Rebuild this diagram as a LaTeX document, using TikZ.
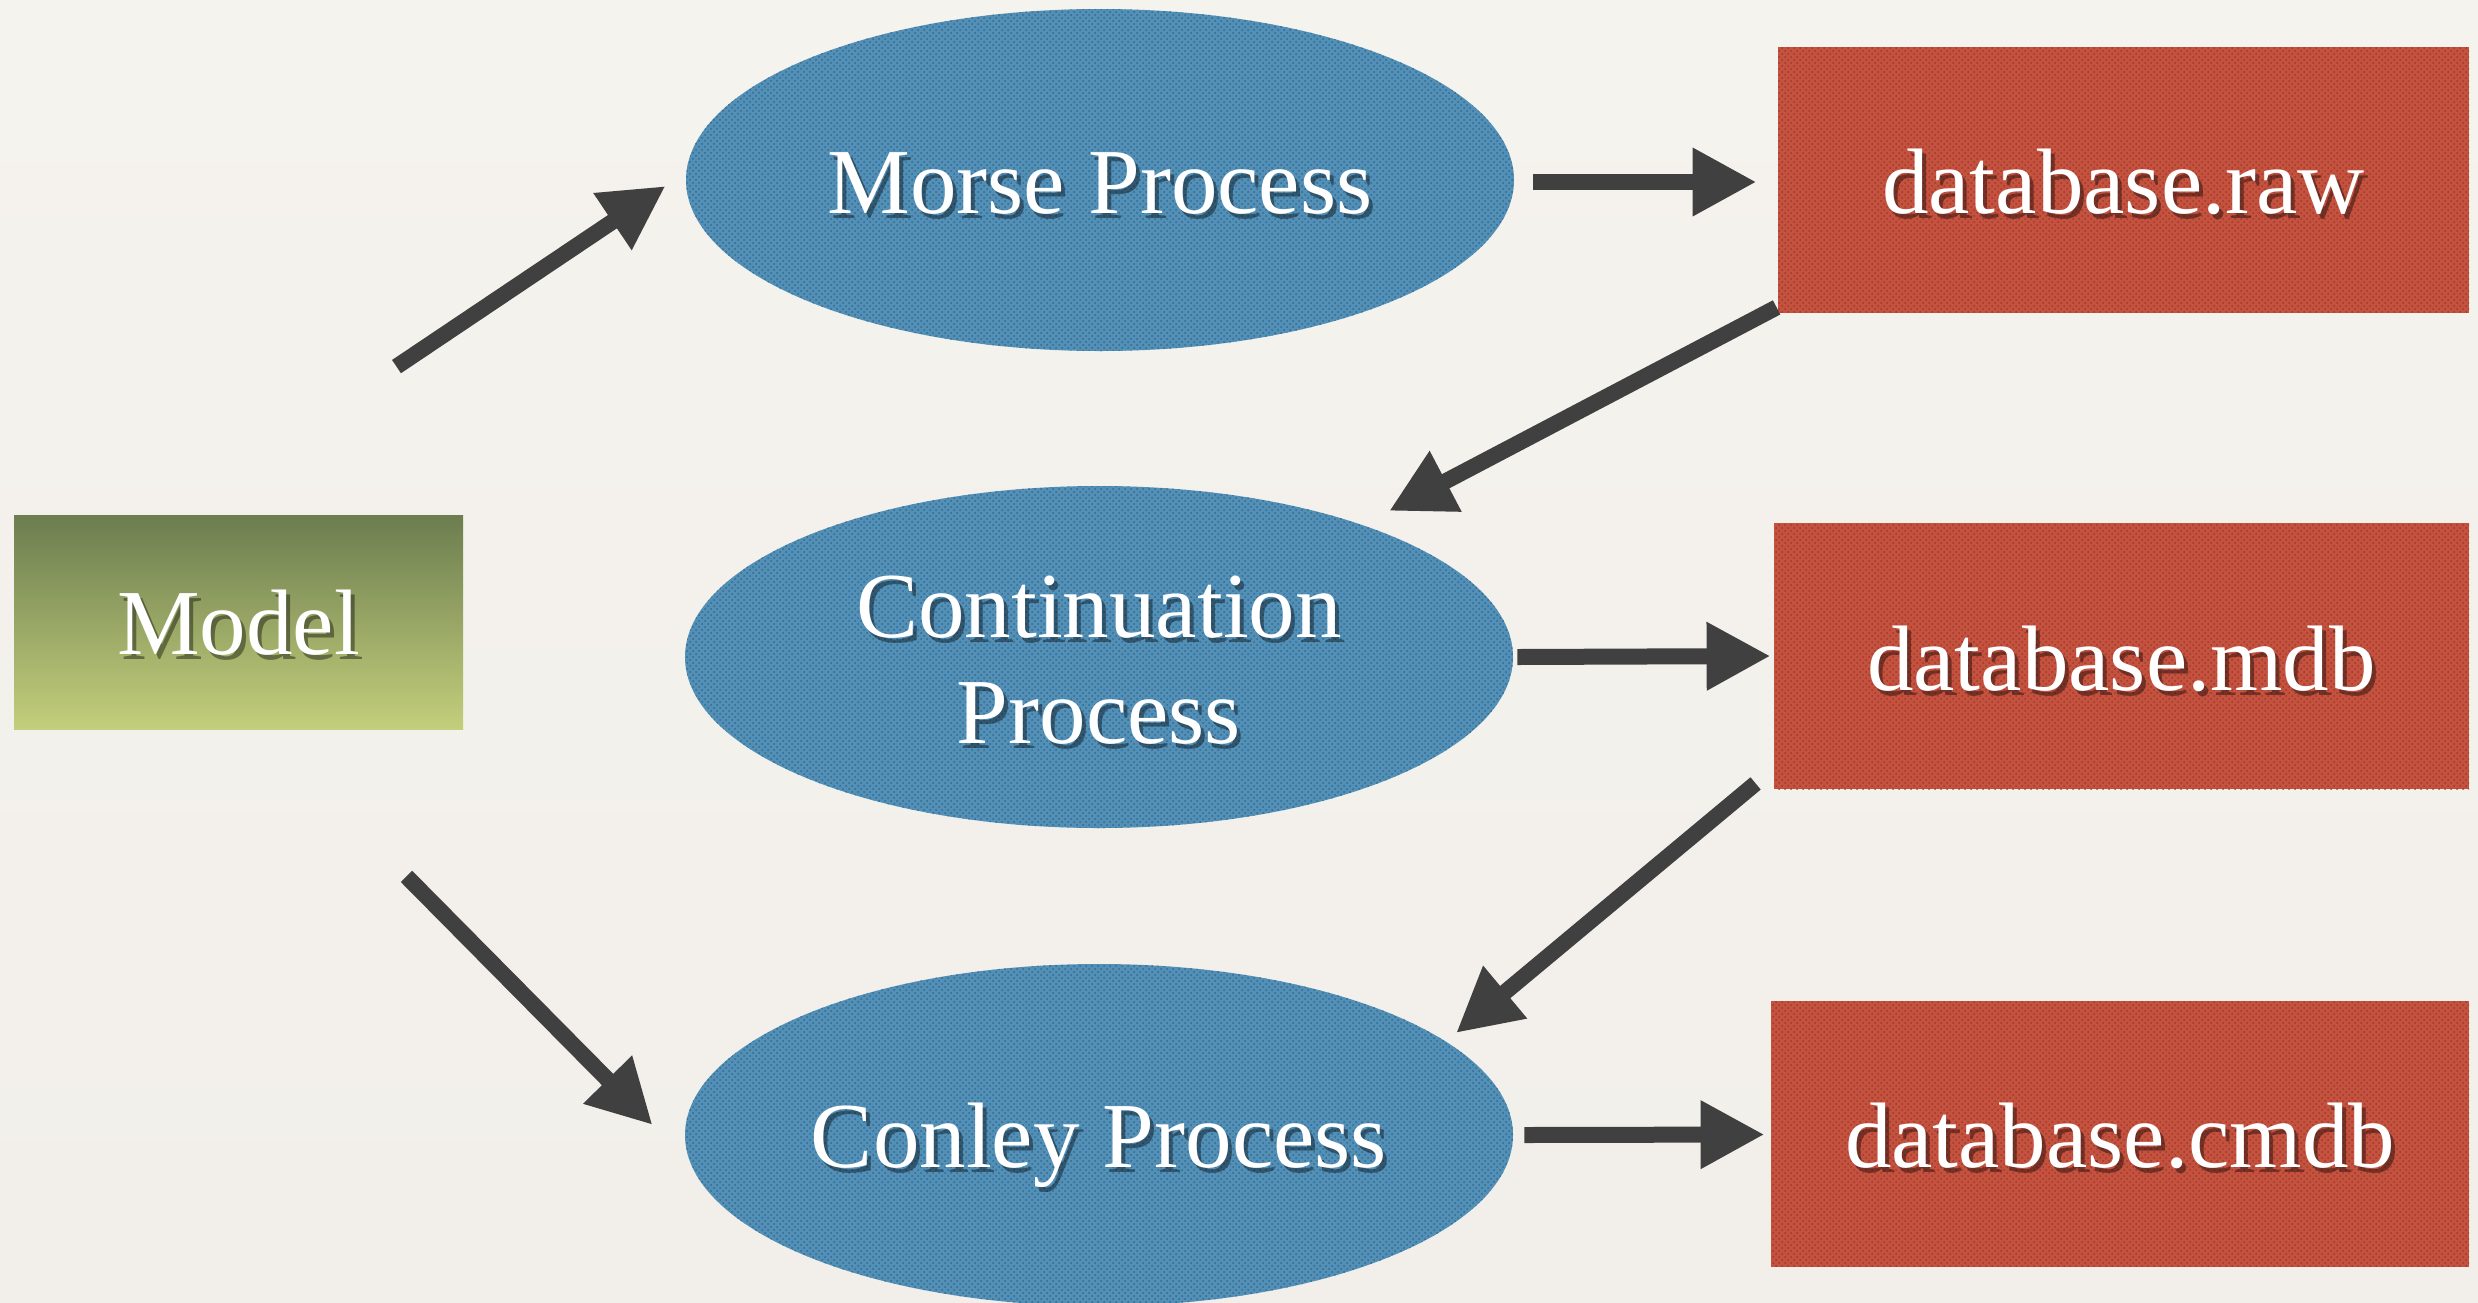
\documentclass[tikz,border=0pt]{standalone}
\usepackage{fontspec}
\setmainfont{Liberation Serif}
\usetikzlibrary{arrows.meta,shapes.geometric,patterns,calc}

\definecolor{papertop}{HTML}{F5F3EE}
\definecolor{papermid}{HTML}{E7E4DE}
\definecolor{paperbot}{HTML}{F2EFEA}
\definecolor{procblue}{HTML}{5290B8}
\definecolor{procdots}{HTML}{36698B}
\definecolor{dbred}{HTML}{C4523F}
\definecolor{dbdots}{HTML}{9C3C2D}
\definecolor{modeltop}{HTML}{6C7D4F}
\definecolor{modelbot}{HTML}{C3CF7B}
\definecolor{arrowgray}{HTML}{404040}

% white label with a dark drop shadow; #1 base point, #2 name, #3 text
\newcommand\shadowlabel[3]{%
  \node[lbl, text=black, text opacity=0.4] at ($#1+(4,5)$) {#3};
  \node[lbl] (#2) at #1 {#3};
}

\begin{document}
\begin{tikzpicture}[x=0.5pt, y=-0.5pt,
  proc/.style={ellipse, inner sep=0pt, minimum width=414pt, minimum height=171pt,
    fill=procblue, postaction={pattern=crosshatch dots, pattern color=procdots}},
  store/.style={rectangle, inner sep=0pt, minimum height=133pt,
    fill=dbred, postaction={pattern=crosshatch dots, pattern color=dbdots}},
  modelbox/.style={rectangle, inner sep=0pt, minimum width=224.5pt, minimum height=107pt,
    top color=modeltop, bottom color=modelbot},
  lbl/.style={text=white, font=\fontsize{46.5}{53}\selectfont, anchor=base, inner sep=0pt},
  arr/.style={draw=arrowgray, line width=8pt,
    -{Triangle[length=32pt, width=32pt]}},
]
% paper background
\useasboundingbox (0,0) rectangle (2478,1302);
\shade[top color=papertop, middle color=papermid, bottom color=paperbot]
  (0,0) rectangle (2478,1302);

% shapes
\node[modelbox] (model) at (238.5,622) {};
\node[proc] (morse) at (1100,180) {};
\node[proc] (cont) at (1099,657) {};
\node[proc] (conley) at (1099,1135) {};
\node[store, minimum width=345.5pt] (raw) at (2123.5,180) {};
\node[store, minimum width=347.5pt] (mdb) at (2121.5,656) {};
\node[store, minimum width=349pt] (cmdb) at (2120,1133.5) {};

% labels
\shadowlabel{($(model)+(0,32)$)}{tmodel}{Model}
\shadowlabel{($(morse)+(0,33)$)}{tmorse}{Morse Process}
\shadowlabel{($(cont)+(0,-20)$)}{tcont1}{Continuation}
\shadowlabel{($(cont)+(0,86)$)}{tcont2}{Process}
\shadowlabel{($(conley)+(0,32)$)}{tconley}{Conley Process}
\shadowlabel{($(raw)+(0,33)$)}{traw}{database.raw}
\shadowlabel{($(mdb)+(0,34)$)}{tmdb}{database.mdb}
\shadowlabel{($(cmdb)+(0,34)$)}{tcmdb}{database.cmdb}

% connectors
\draw[arr] ($(model.north)+(158,-148)$) -- ($(morse.west)+(-20,6)$);
\draw[arr] ($(model.south)+(168,147)$) -- ($(conley.west)+(-32,-10)$);
\draw[arr] ($(morse.east)+(19,2)$) -- ($(raw.west)+(-21,2)$);
\draw[arr] ($(raw.south west)+(-1,-6)$) -- ($(cont)+(290,-146)$);
\draw[arr] ($(cont.east)+(4,0)$) -- ($(mdb.west)+(-3,0)$);
\draw[arr] ($(mdb.south west)+(-18,-6)$) -- ($(conley)+(357,-102)$);
\draw[arr] ($(conley.east)+(11,0)$) -- ($(cmdb.west)+(-6,1)$);
\end{tikzpicture}
\end{document}
